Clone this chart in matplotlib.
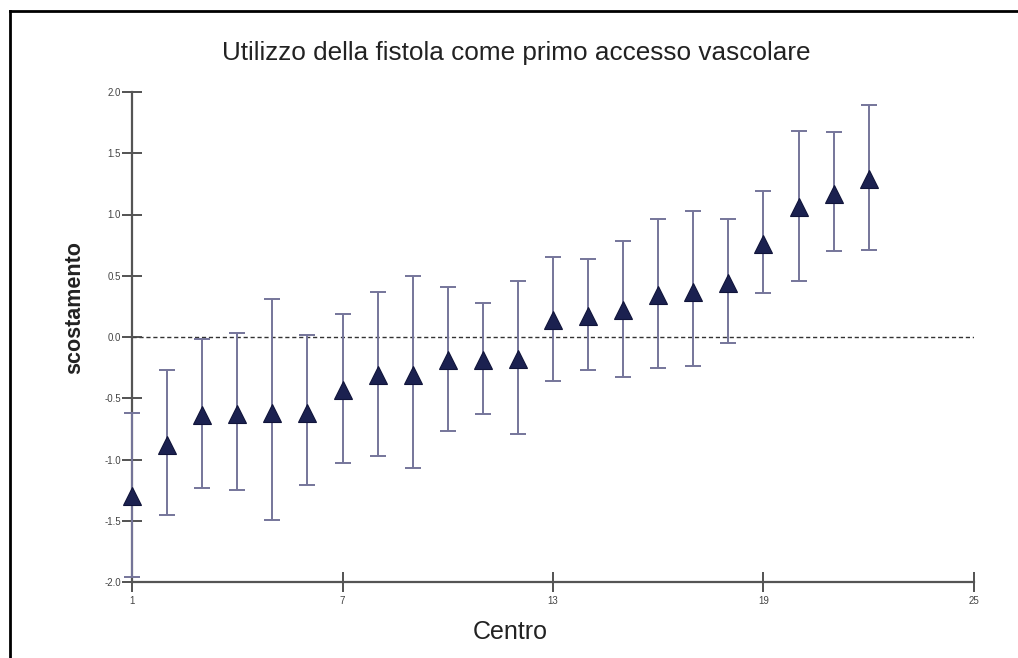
import matplotlib
matplotlib.use("Agg")
import matplotlib.pyplot as plt
from matplotlib.lines import Line2D
import numpy as np

plt.rcParams['font.family'] = ['Liberation Sans', 'DejaVu Sans']

# Data
centro = list(range(1, 23))
scostamento = [-1.30, -0.88, -0.64, -0.63, -0.62, -0.62, -0.43, -0.31, -0.31, -0.19, -0.19,
               -0.18, 0.14, 0.17, 0.22, 0.34, 0.37, 0.44, 0.76, 1.06, 1.17, 1.29]
lower = [-1.96, -1.45, -1.23, -1.25, -1.49, -1.21, -1.03, -0.97, -1.07, -0.77, -0.63,
         -0.79, -0.36, -0.27, -0.33, -0.25, -0.24, -0.05, 0.36, 0.46, 0.70, 0.71]
upper = [-0.62, -0.27, -0.02, 0.03, 0.31, 0.02, 0.19, 0.37, 0.50, 0.41, 0.28,
         0.46, 0.65, 0.64, 0.78, 0.96, 1.03, 0.96, 1.19, 1.68, 1.67, 1.89]
xticks = [1, 7, 13, 19, 25]
yticks = [-2.0, -1.5, -1.0, -0.5, 0.0, 0.5, 1.0, 1.5, 2.0]

W, H = 1018, 658
fig = plt.figure(figsize=(W / 100, H / 100), dpi=100)
fig.patch.set_facecolor('white')

ax = fig.add_axes([132 / W, 1 - 582 / H, (974 - 132) / W, (582 - 92) / H])
ax.set_xlim(1, 25)
ax.set_ylim(-2, 2)

y = np.array(scostamento)
err = [y - np.array(lower), np.array(upper) - y]

ax.axhline(0, color='#333333', lw=1.0, ls=(0, (3, 2)), zorder=1)

ax.errorbar(centro, y, yerr=err, fmt='none', ecolor='#75759a', elinewidth=1.4,
            capsize=6, capthick=1.4, zorder=3, clip_on=False)
ax.plot(centro, y, ls='none', marker='^', ms=13.5, mfc='#1b2150', mec='#10143a',
        mew=0.8, zorder=4, clip_on=False)

for s in ['top', 'right']:
    ax.spines[s].set_visible(False)
for s in ['left', 'bottom']:
    ax.spines[s].set_color('#555555')
    ax.spines[s].set_linewidth(1.6)

ax.set_xticks(xticks)
ax.set_xticklabels([str(t) for t in xticks])
ax.set_yticks(yticks)
ax.set_yticklabels([f"{t:.1f}" for t in yticks])
ax.tick_params(axis='both', direction='inout', length=14, width=1.3, color='#444444',
               labelsize=7, labelcolor='#444444')
ax.tick_params(axis='y', pad=1)
ax.tick_params(axis='x', pad=3)

ax.set_title('Utilizzo della fistola come primo accesso vascolare', fontsize=18.8,
             x=(516 - 132) / 842, pad=23, color='#222222')
ax.set_xlabel('Centro', fontsize=18, color='#222222')
ax.xaxis.set_label_coords((510 - 132) / 842, (582 - 632) / 490)
ax.xaxis.label.set_va('center')
ax.set_ylabel('scostamento', fontsize=15.5, fontweight='bold', color='#222222')
ax.yaxis.set_label_coords((75 - 132) / 842, (582 - 308) / 490)
ax.yaxis.label.set_va('center')

# figure frame (left and top edges visible)
fig.add_artist(Line2D([10 / W, 10 / W], [0, 1 - 11 / H], transform=fig.transFigure,
                      color='black', lw=2))
fig.add_artist(Line2D([10 / W, 1], [1 - 11 / H, 1 - 11 / H], transform=fig.transFigure,
                      color='black', lw=2))

fig.savefig('out.png', dpi=100, facecolor='white')
